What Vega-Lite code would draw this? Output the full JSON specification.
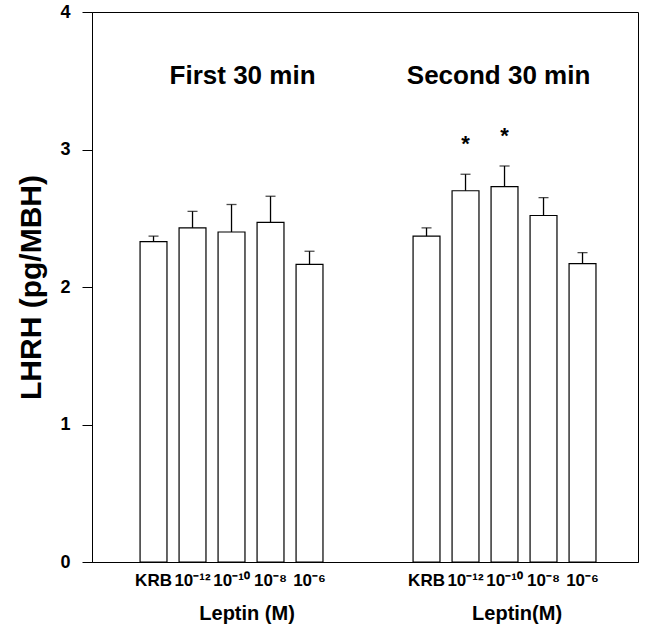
{
  "$schema": "https://vega.github.io/schema/vega-lite/v6.json",
  "width": 546,
  "height": 550,
  "autosize": "none",
  "padding": {"left": 92, "top": 12, "right": 7, "bottom": 67},
  "background": "white",
  "config": {
    "view": {"stroke": "black", "strokeWidth": 1},
    "font": "Liberation Sans"
  },
  "datasets": {
    "bars": [
      {"slot": "A|KRB", "period": "First 30 min", "dose": "KRB", "mean": 2.33, "upper": 2.37, "star": false},
      {"slot": "A|10⁻¹²", "period": "First 30 min", "dose": "10⁻¹²", "mean": 2.43, "upper": 2.55, "star": false},
      {"slot": "A|10⁻¹⁰", "period": "First 30 min", "dose": "10⁻¹⁰", "mean": 2.40, "upper": 2.60, "star": false},
      {"slot": "A|10⁻⁸", "period": "First 30 min", "dose": "10⁻⁸", "mean": 2.47, "upper": 2.66, "star": false},
      {"slot": "A|10⁻⁶", "period": "First 30 min", "dose": "10⁻⁶", "mean": 2.165, "upper": 2.26, "star": false},
      {"slot": "B|KRB", "period": "Second 30 min", "dose": "KRB", "mean": 2.37, "upper": 2.43, "star": false},
      {"slot": "B|10⁻¹²", "period": "Second 30 min", "dose": "10⁻¹²", "mean": 2.70, "upper": 2.82, "star": true},
      {"slot": "B|10⁻¹⁰", "period": "Second 30 min", "dose": "10⁻¹⁰", "mean": 2.73, "upper": 2.88, "star": true},
      {"slot": "B|10⁻⁸", "period": "Second 30 min", "dose": "10⁻⁸", "mean": 2.52, "upper": 2.65, "star": false},
      {"slot": "B|10⁻⁶", "period": "Second 30 min", "dose": "10⁻⁶", "mean": 2.17, "upper": 2.25, "star": false}
    ],
    "groupTitles": [
      {"slot": "A|10⁻¹⁰", "text": "First 30 min", "shift": 24.5},
      {"slot": "B|10⁻¹⁰", "text": "Second 30 min", "shift": 7.5}
    ],
    "axisTitles": [
      {"slot": "A|10⁻¹⁰", "text": "Leptin (M)", "shift": 29},
      {"slot": "B|10⁻¹⁰", "text": "Leptin(M)", "shift": 26}
    ]
  },
  "encoding": {
    "x": {
      "field": "slot",
      "type": "nominal",
      "scale": {
        "domain": ["p0", "A|KRB", "A|10⁻¹²", "A|10⁻¹⁰", "A|10⁻⁸", "A|10⁻⁶", "g1", "g2", "B|KRB", "B|10⁻¹²", "B|10⁻¹⁰", "B|10⁻⁸", "B|10⁻⁶", "p1"],
        "paddingInner": 0.31,
        "paddingOuter": 0.155,
        "align": 0.75
      },
      "axis": {
        "title": null,
        "labelAngle": 0,
        "ticks": false,
        "domain": true,
        "domainColor": "black",
        "domainWidth": 1,
        "labelPadding": 10,
        "labelFont": "Liberation Sans",
        "labelFontWeight": "bold",
        "labelFontSize": 17,
        "labelColor": "black",
        "labelExpr": "indexof(datum.value, '|') > 0 ? split(datum.value, '|')[1] : ''"
      }
    }
  },
  "layer": [
    {
      "data": {"name": "bars"},
      "mark": {"type": "bar", "fill": "white", "stroke": "black", "strokeWidth": 1.2},
      "encoding": {
        "y": {
          "field": "mean",
          "type": "quantitative",
          "scale": {"domain": [0, 4], "nice": false, "zero": true},
          "axis": {
            "title": "LHRH (pg/MBH)",
            "titleFont": "Liberation Sans",
            "titleFontSize": 30,
            "titleFontWeight": "bold",
            "titleColor": "black",
            "titlePadding": 13,
            "values": [0, 1, 2, 3, 4],
            "format": "d",
            "grid": false,
            "tickSize": 10,
            "tickColor": "black",
            "domainColor": "black",
            "labelFont": "Liberation Sans",
            "labelFontSize": 18,
            "labelFontWeight": "bold",
            "labelColor": "black",
            "labelPadding": 12
          }
        }
      }
    },
    {
      "data": {"name": "bars"},
      "mark": {"type": "rule", "color": "black", "strokeWidth": 1.3},
      "encoding": {
        "y": {"field": "mean", "type": "quantitative"},
        "y2": {"field": "upper"}
      }
    },
    {
      "data": {"name": "bars"},
      "mark": {"type": "tick", "color": "black", "size": 10, "thickness": 1.3, "orient": "horizontal"},
      "encoding": {
        "y": {"field": "upper", "type": "quantitative"}
      }
    },
    {
      "data": {"name": "bars"},
      "transform": [{"filter": "datum.star"}],
      "mark": {"type": "text", "text": "*", "font": "Liberation Sans", "fontSize": 22, "fontWeight": "bold", "baseline": "alphabetic", "dy": -23, "color": "black"},
      "encoding": {
        "y": {"field": "upper", "type": "quantitative"}
      }
    },
    {
      "data": {"name": "groupTitles"},
      "mark": {"type": "text", "font": "Liberation Sans", "fontSize": 26, "fontWeight": "bold", "baseline": "middle", "align": "center", "color": "black"},
      "encoding": {
        "y": {"datum": 3.535, "type": "quantitative"},
        "text": {"field": "text"},
        "xOffset": {"field": "shift", "type": "quantitative", "scale": null}
      }
    },
    {
      "data": {"name": "axisTitles"},
      "mark": {"type": "text", "font": "Liberation Sans", "fontSize": 20, "fontWeight": "bold", "baseline": "middle", "align": "center", "dy": 52, "color": "black", "clip": false},
      "encoding": {
        "y": {"datum": 0, "type": "quantitative"},
        "text": {"field": "text"},
        "xOffset": {"field": "shift", "type": "quantitative", "scale": null}
      }
    }
  ]
}
